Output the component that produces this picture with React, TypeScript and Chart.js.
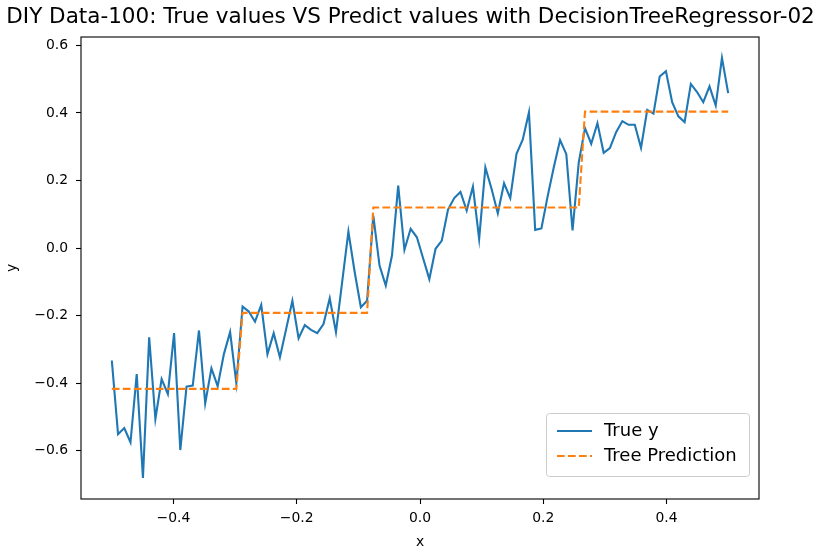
import { useEffect, useRef } from "react";
import { Chart, registerables, type Plugin } from "chart.js";

Chart.register(...registerables);

const chartTitle = "DIY Data-100: True values VS Predict values with DecisionTreeRegressor-02";
const xStart = -0.5;
const xEnd = 0.5;

const trueY = [
  -0.333, -0.551, -0.533, -0.575, -0.373, -0.681, -0.264, -0.506, -0.388, -0.432,
  -0.252, -0.598, -0.41, -0.407, -0.244, -0.46, -0.356, -0.409, -0.314, -0.249,
  -0.4, -0.173, -0.188, -0.218, -0.168, -0.314, -0.252, -0.323, -0.24, -0.156,
  -0.267, -0.228, -0.242, -0.252, -0.225, -0.149, -0.249, -0.1, 0.049, -0.07,
  -0.175, -0.156, 0.096, -0.052, -0.111, -0.022, 0.185, -0.005, 0.057, 0.032,
  -0.03, -0.092, -0.002, 0.022, 0.114, 0.148, 0.166, 0.111, 0.182, 0.027,
  0.239, 0.175, 0.103, 0.192, 0.148, 0.279, 0.321, 0.402, 0.054, 0.058,
  0.153, 0.24, 0.32, 0.278, 0.052, 0.254, 0.355, 0.309, 0.37, 0.282,
  0.296, 0.343, 0.376, 0.365, 0.365, 0.297, 0.409, 0.398, 0.508, 0.524,
  0.432, 0.39, 0.373, 0.486, 0.462, 0.432, 0.479, 0.422, 0.563, 0.459,
];

// decision tree prediction at the same x
const treeY = [
  -0.417, -0.417, -0.417, -0.417, -0.417, -0.417, -0.417, -0.417, -0.417, -0.417,
  -0.417, -0.417, -0.417, -0.417, -0.417, -0.417, -0.417, -0.417, -0.417, -0.417,
  -0.417, -0.192, -0.192, -0.192, -0.192, -0.192, -0.192, -0.192, -0.192, -0.192,
  -0.192, -0.192, -0.192, -0.192, -0.192, -0.192, -0.192, -0.192, -0.192, -0.192,
  -0.192, -0.192, 0.12, 0.12, 0.12, 0.12, 0.12, 0.12, 0.12, 0.12,
  0.12, 0.12, 0.12, 0.12, 0.12, 0.12, 0.12, 0.12, 0.12, 0.12,
  0.12, 0.12, 0.12, 0.12, 0.12, 0.12, 0.12, 0.12, 0.12, 0.12,
  0.12, 0.12, 0.12, 0.12, 0.12, 0.12, 0.404, 0.404, 0.404, 0.404,
  0.404, 0.404, 0.404, 0.404, 0.404, 0.404, 0.404, 0.404, 0.404, 0.404,
  0.404, 0.404, 0.404, 0.404, 0.404, 0.404, 0.404, 0.404, 0.404, 0.404,
];

const xTicks = [-0.4, -0.2, 0, 0.2, 0.4];
const yTicks = [-0.6, -0.4, -0.2, 0, 0.2, 0.4, 0.6];

const FONT = "'DejaVu Sans', sans-serif";
const fmt = (v: number | string) => {
  const n = Number(v);
  return (n < -1e-9 ? "\u2212" : "") + Math.abs(n).toFixed(1);
};

const framePlugin: Plugin<"line"> = {
  id: "frame",
  afterDatasetsDraw(chart) {
    const { ctx, chartArea: a } = chart;
    ctx.save();
    ctx.strokeStyle = "#000";
    ctx.lineWidth = 1.1;
    ctx.strokeRect(a.left, a.top, a.right - a.left, a.bottom - a.top);
    ctx.restore();
  },
};

// title centred on the whole figure, not just the padded layout box
const titlePlugin: Plugin<"line"> = {
  id: "figTitle",
  afterDraw(chart) {
    const { ctx, width } = chart;
    ctx.save();
    ctx.fillStyle = "#000";
    ctx.font = `21.5px ${FONT}`;
    ctx.textAlign = "center";
    ctx.textBaseline = "middle";
    ctx.fillText(chartTitle, width / 2, 17);
    ctx.restore();
  },
};

const legendPlugin: Plugin<"line"> = {
  id: "boxLegend",
  afterDraw(chart) {
    const { ctx, chartArea: a } = chart;
    const w = 203;
    const h = 63;
    const x = a.right - 10 - w;
    const y = a.bottom - 23 - h;
    ctx.save();
    ctx.beginPath();
    ctx.roundRect(x + 0.5, y + 0.5, w, h, 3);
    ctx.fillStyle = "rgba(255,255,255,0.8)";
    ctx.fill();
    ctx.strokeStyle = "#cccccc";
    ctx.lineWidth = 1;
    ctx.stroke();
    chart.data.datasets.forEach((ds: any, i) => {
      const cy = y + 18 + i * 25;
      ctx.beginPath();
      ctx.strokeStyle = ds.borderColor;
      ctx.lineWidth = ds.borderWidth;
      ctx.setLineDash(ds.borderDash || []);
      ctx.moveTo(x + 11, cy);
      ctx.lineTo(x + 46, cy);
      ctx.stroke();
      ctx.setLineDash([]);
      ctx.fillStyle = "#000";
      ctx.font = `18px ${FONT}`;
      ctx.textBaseline = "middle";
      ctx.fillText(ds.label, x + 58, cy);
    });
    ctx.restore();
  },
};

export default function App() {
  const canvasRef = useRef<HTMLCanvasElement | null>(null);
  const chartRef = useRef<Chart | null>(null);

  useEffect(() => {
    document.body.style.margin = "0";
    if (!canvasRef.current) return;
    chartRef.current?.destroy();

    const xs = trueY.map((_, i) => xStart + (i * (xEnd - xStart)) / (trueY.length - 1));

    const tickGrid = {
      drawOnChartArea: false,
      drawTicks: true,
      tickLength: 5,
      tickWidth: 1.1,
      tickColor: "#000",
    };

    chartRef.current = new Chart(canvasRef.current, {
      type: "line",
      data: {
        datasets: [
          {
            label: "True y",
            data: xs.map((x, i) => ({ x, y: trueY[i] })),
            borderColor: "#1f77b4",
            borderWidth: 2.1,
            pointRadius: 0,
            tension: 0,
            order: 1,
          },
          {
            label: "Tree Prediction",
            data: xs.map((x, i) => ({ x, y: treeY[i] })),
            borderColor: "#ff7f0e",
            borderWidth: 2.1,
            borderDash: [7.7, 3.3],
            pointRadius: 0,
            tension: 0,
            order: 0,
          },
        ],
      },
      options: {
        responsive: false,
        animation: false,
        layout: { padding: { left: 0, right: 62, top: 37, bottom: 0 } },
        plugins: {
          legend: { display: false },
          tooltip: { enabled: false },
          title: { display: false },
        },
        scales: {
          x: {
            type: "linear",
            min: -0.55,
            max: 0.55,
            afterBuildTicks: (s) => {
              s.ticks = xTicks.map((v) => ({ value: v }));
            },
            afterFit: (s) => {
              s.height = 54;
            },
            grid: tickGrid,
            border: { display: false },
            ticks: {
              padding: 6,
              color: "#000",
              font: { family: FONT, size: 13.9 },
              callback: fmt,
              maxRotation: 0,
              autoSkip: false,
            },
            title: {
              display: true,
              text: "x",
              color: "#000",
              font: { family: FONT, size: 13.9 },
              padding: { top: 0, bottom: 2 },
            },
          },
          y: {
            type: "linear",
            min: -0.743,
            max: 0.625,
            afterBuildTicks: (s) => {
              s.ticks = yTicks.map((v) => ({ value: v }));
            },
            afterFit: (s) => {
              s.width = 81;
            },
            grid: tickGrid,
            border: { display: false },
            ticks: {
              padding: 8,
              color: "#000",
              font: { family: FONT, size: 13.9 },
              callback: fmt,
              autoSkip: false,
            },
            title: {
              display: true,
              text: "y",
              color: "#000",
              font: { family: FONT, size: 13.9 },
              padding: { top: 4, bottom: 0 },
            },
          },
        },
      },
      plugins: [framePlugin, titlePlugin, legendPlugin],
    });

    return () => {
      chartRef.current?.destroy();
      chartRef.current = null;
    };
  }, []);

  return <canvas ref={canvasRef} width={821} height={553} style={{ display: "block" }} />;
}
